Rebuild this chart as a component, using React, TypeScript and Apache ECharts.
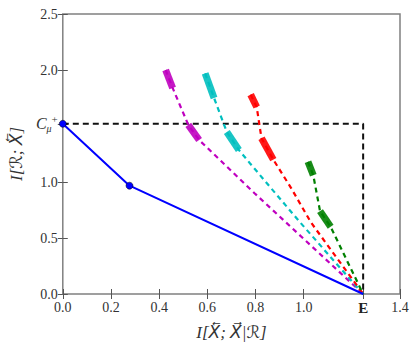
import React, { useEffect, useRef } from "react";
import * as echarts from "echarts";

const E_VAL = 1.247;
const C_MU = 1.52;

const xTickValues = [0, 0.2, 0.4, 0.6, 0.8, 1.0, E_VAL, 1.4];
const yTickValues = [0, 0.5, 1.0, C_MU, 2.0, 2.5];

const bluePoints: number[][] = [[0, C_MU], [0.277, 0.967], [E_VAL, 0]];
const boundX: number[][] = [[0, C_MU], [E_VAL, C_MU], [E_VAL, 0]];

const magentaDash: number[][] = [[0.427, 2.0], [0.456, 1.84], [0.521, 1.51], [0.566, 1.375], [0.796, 0.9], [E_VAL, 0]];
const magentaClusters: number[][][] = [[[0.427, 2.0], [0.456, 1.84]], [[0.521, 1.51], [0.566, 1.375]]];

const cyanDash: number[][] = [[0.591, 1.97], [0.628, 1.75], [0.681, 1.446], [0.731, 1.286], [0.776, 1.17], [0.977, 0.66], [E_VAL, 0]];
const cyanClusters: number[][][] = [[[0.591, 1.97], [0.628, 1.75]], [[0.681, 1.446], [0.731, 1.286]]];

const redDash: number[][] = [[0.78, 1.78], [0.805, 1.67], [0.825, 1.39], [0.874, 1.2], [0.948, 0.946], [1.03, 0.64], [E_VAL, 0]];
const redClusters: number[][][] = [[[0.78, 1.78], [0.805, 1.67]], [[0.825, 1.39], [0.874, 1.2]]];

const greenDash: number[][] = [[1.018, 1.18], [1.04, 1.06], [1.068, 0.74], [1.112, 0.6], [E_VAL, 0]];
const greenClusters: number[][][] = [[[1.018, 1.18], [1.04, 1.06]], [[1.068, 0.74], [1.112, 0.6]]];

const FONT = "'Liberation Serif', serif";
const NAME_FONT = "'Liberation Serif', 'DejaVu Sans', serif";

export default function App() {
  const ref = useRef<HTMLDivElement>(null);
  useEffect(() => {
    document.body.style.margin = "0";
    const chart = echarts.init(ref.current!, null, { renderer: "svg" });
    const families: [string, number[][], number[][][]][] = [
      ["#bf00bf", magentaDash, magentaClusters],
      ["#00bfbf", cyanDash, cyanClusters],
      ["#ff0000", redDash, redClusters],
      ["#008000", greenDash, greenClusters],
    ];
    const series: any[] = [];
    for (const [color, dash, clusters] of families) {
      series.push({
        type: "line",
        data: dash,
        showSymbol: false,
        lineStyle: { color, width: 2.2, type: [5, 4] },
        z: 3,
      });
      for (const c of clusters) {
        series.push({
          type: "line",
          data: c,
          showSymbol: false,
          lineStyle: { color, width: 7, cap: "butt", opacity: 0.9 },
          z: 4,
        });
      }
    }
    series.push({
      type: "line",
      data: boundX,
      showSymbol: false,
      lineStyle: { color: "#111", width: 2, type: [6, 4] },
      z: 2,
    });
    series.push({
      type: "line",
      data: bluePoints.map((p, i) => (i < 2 ? { value: p } : { value: p, symbol: "none" })),
      symbol: "circle",
      symbolSize: 7,
      showSymbol: true,
      itemStyle: { color: "#0000ff", borderColor: "#000", borderWidth: 0.5 },
      lineStyle: { color: "#0000ff", width: 2 },
      z: 5,
    });

    const tickStyle = { show: true, inside: true, length: 5, lineStyle: { color: "#555", width: 1 } };
    const labelBase = { fontFamily: FONT, fontSize: 14, color: "#333" };

    chart.setOption({
      animation: false,
      grid: { left: 59, right: 16, top: 14, bottom: 54, show: true, borderColor: "#808080", borderWidth: 1.5, backgroundColor: "#fff" },
      xAxis: [
        {
          type: "value",
          min: 0,
          max: 1.4,
          position: "bottom",
          axisLine: { show: false },
          splitLine: { show: false },
          axisTick: { ...tickStyle, customValues: xTickValues },
          axisLabel: {
            ...labelBase,
            margin: 6,
            customValues: xTickValues,
            formatter: (v: number) => (Math.abs(v - E_VAL) < 1e-6 ? "{e|E}" : v.toFixed(1)),
            rich: { e: { fontFamily: FONT, fontSize: 15, fontWeight: "bold", color: "#222" } },
          },
          name: "I[X\u20D6; X\u20D7|\u211B]",
          nameLocation: "middle",
          nameGap: 30,
          nameTextStyle: { fontFamily: NAME_FONT, fontSize: 17, color: "#333", fontStyle: "italic" },
        },
        {
          type: "value",
          min: 0,
          max: 1.4,
          position: "top",
          axisLine: { show: false },
          splitLine: { show: false },
          axisTick: { ...tickStyle, customValues: xTickValues },
          axisLabel: { show: false },
        },
      ],
      yAxis: [
        {
          type: "value",
          min: 0,
          max: 2.5,
          position: "left",
          axisLine: { show: false },
          splitLine: { show: false },
          axisTick: { ...tickStyle, customValues: yTickValues },
          axisLabel: {
            ...labelBase,
            margin: 5,
            customValues: yTickValues,
            formatter: (v: number) => (Math.abs(v - C_MU) < 1e-6 ? "{c|C}{m|\u03BC}{p|+}" : v.toFixed(1)),
            rich: {
              c: { fontFamily: FONT, fontSize: 16, fontStyle: "italic", color: "#333" },
              m: { fontFamily: FONT, fontSize: 10, fontStyle: "italic", color: "#333", padding: [10, 0, 0, 0] },
              p: { fontFamily: FONT, fontSize: 11, color: "#333", padding: [0, 0, 10, 0] },
            },
          },
          name: "I[\u211B; X\u20D6]",
          nameLocation: "middle",
          nameGap: 36,
          nameRotate: 90,
          nameTextStyle: { fontFamily: NAME_FONT, fontSize: 17, color: "#333", fontStyle: "italic" },
        },
        {
          type: "value",
          min: 0,
          max: 2.5,
          position: "right",
          axisLine: { show: false },
          splitLine: { show: false },
          axisTick: { ...tickStyle, customValues: yTickValues },
          axisLabel: { show: false },
        },
      ],
      series,
    });
    return () => chart.dispose();
  }, []);
  return <div ref={ref} style={{ width: 416, height: 348 }} />;
}
